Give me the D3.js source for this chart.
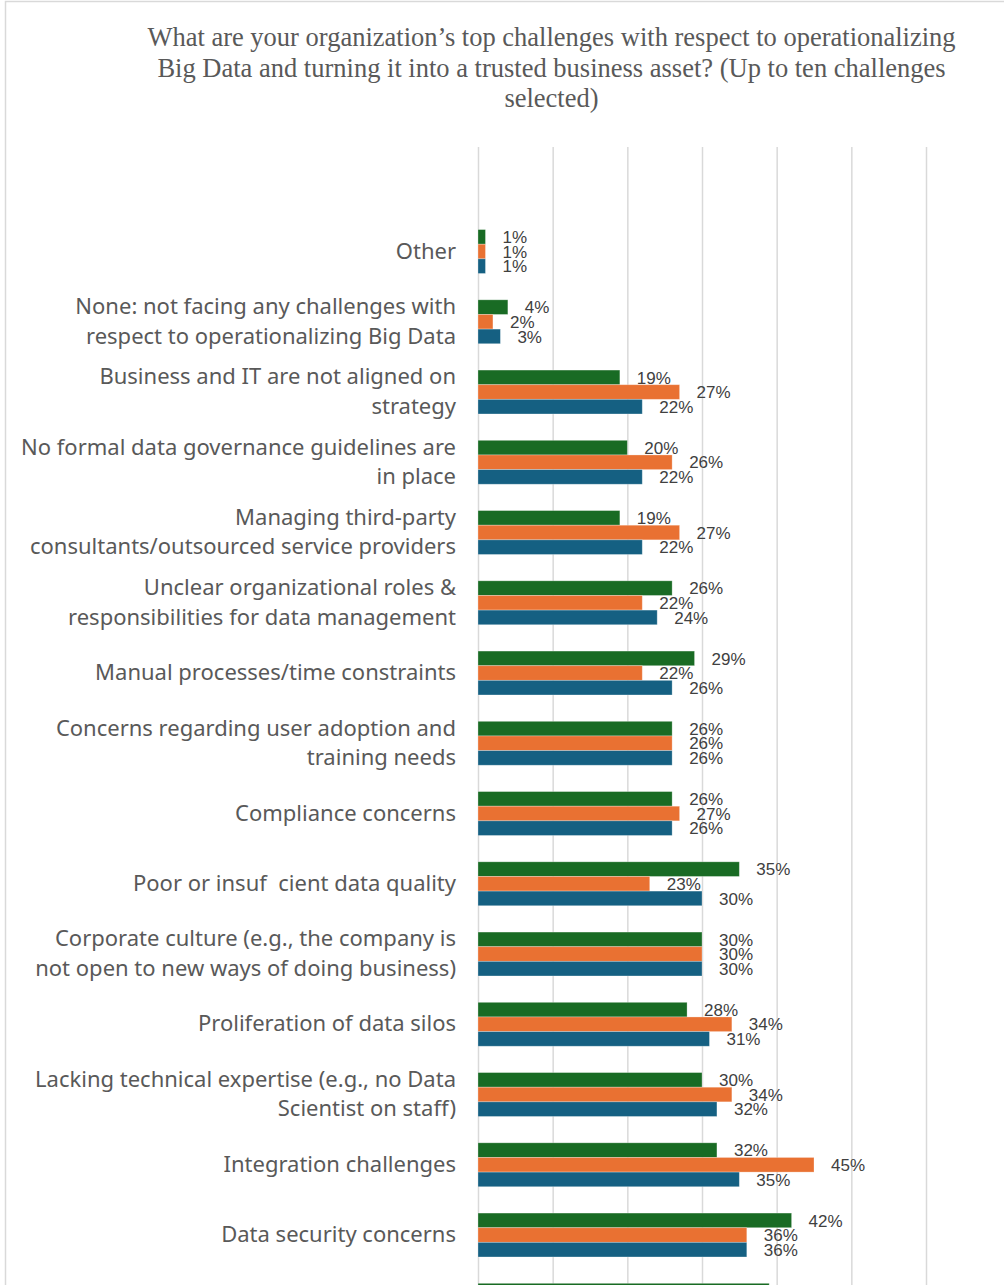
<!DOCTYPE html>
<html>
<head>
<meta charset="utf-8">
<script src="https://cdn.jsdelivr.net/npm/d3@7"></script>
<style>
  html, body { margin: 0; padding: 0; background: #fff; overflow: hidden; }
  svg { display: block; }
</style>
</head>
<body>
<svg id="chart" width="1004" height="1285"></svg>
<script>
// ---- data (top to bottom) ----
const titleLines = [
  "What are your organization\u2019s top challenges with respect to operationalizing",
  "Big Data and turning it into a trusted business asset? (Up to ten challenges",
  "selected)"
];
const categories = [
  ["Other"],
  ["None: not facing any challenges with", "respect to operationalizing Big Data"],
  ["Business and IT are not aligned on", "strategy"],
  ["No formal data governance guidelines are", "in place"],
  ["Managing third-party", "consultants/outsourced service providers"],
  ["Unclear organizational roles &", "responsibilities for data management"],
  ["Manual processes/time constraints"],
  ["Concerns regarding user adoption and", "training needs"],
  ["Compliance concerns"],
  ["Poor or insuf\u00a0\u00a0cient data quality"],
  ["Corporate culture (e.g., the company is", "not open to new ways of doing business)"],
  ["Proliferation of data silos"],
  ["Lacking technical expertise (e.g., no Data", "Scientist on staff)"],
  ["Integration challenges"],
  ["Data security concerns"],
  [""]  // next category, cut off at the bottom of the picture
];
const seriesNames = ["Series 1", "Series 2", "Series 3"];
const seriesColors = ["#196B24", "#E97132", "#156082"];
const green  = [1, 4, 19, 20, 19, 26, 29, 26, 26, 35, 30, 28, 30, 32, 42, 39];
const orange = [1, 2, 27, 26, 27, 22, 22, 26, 27, 23, 30, 34, 34, 45, 36, null];
const blue   = [1, 3, 22, 22, 22, 24, 26, 26, 26, 30, 30, 31, 32, 35, 36, null];
const xTicks = [0, 10, 20, 30, 40, 50, 60];

// ---- layout ----
const svg = d3.select("#chart");
const W = 1004, H = 1285;
const plotLeft = 478, plotRight = 926;
const gridTop = 147;
const step = 70.25;
const bandTop = 216.4;

const catKeys = categories.map((c, i) => "c" + i);
const values = [green, orange, blue];

const x = d3.scaleLinear().domain([0, 60]).range([plotLeft, plotRight]);
const y = d3.scaleBand().domain(catKeys)
  .range([bandTop, bandTop + step * catKeys.length])
  .paddingInner(0.375).paddingOuter(0.1875);
const ys = d3.scaleBand().domain(seriesNames).range([0, y.bandwidth()]);

// frame
svg.append("rect")
  .attr("x", 5.5).attr("y", 1.5)
  .attr("width", W + 20).attr("height", H + 20)
  .attr("fill", "#fff").attr("stroke", "#d9d9d9").attr("stroke-width", 1.5);

// title
svg.append("text")
  .attr("x", 551.5).attr("y", 46)
  .attr("text-anchor", "middle")
  .style("font-family", "'Liberation Serif', 'Times New Roman', serif")
  .style("font-size", "26.5px")
  .attr("fill", "#595959")
  .selectAll("tspan").data(titleLines).join("tspan")
  .attr("x", 551.5).attr("dy", (d, i) => i === 0 ? 0 : 30.5)
  .text(d => d);

// gridlines via axis
const gx = svg.append("g")
  .attr("transform", `translate(0,${gridTop})`)
  .call(d3.axisBottom(x).tickValues(xTicks).tickSize(H - gridTop + 20).tickFormat(""));
gx.select(".domain").remove();
gx.selectAll(".tick line").attr("stroke", "#d9d9d9").attr("stroke-width", 1.5);

// bars
const groups = svg.append("g").selectAll("g.cat")
  .data(catKeys).join("g")
  .attr("class", "cat")
  .attr("transform", d => `translate(0,${y(d)})`);

groups.each(function(key, ci) {
  const g = d3.select(this);
  const gy = y(key);
  const rows = seriesNames.map((s, si) => ({ s, si, v: values[si][ci] })).filter(r => r.v != null);
  g.selectAll("rect").data(rows).join("rect")
    .attr("x", x(0))
    .attr("y", r => ys(r.s))
    .attr("width", r => x(r.v) - x(0))
    .attr("height", ys.bandwidth())
    .attr("fill", r => seriesColors[r.si])
    .attr("stroke", "#ffffff").attr("stroke-opacity", 0.35).attr("stroke-width", 0.8);
  // labels only where they fall inside the picture
  g.selectAll("text.lbl").data(rows.filter(r => gy + ys(r.s) + ys.bandwidth() / 2 + 8 < H)).join("text")
    .attr("class", "lbl")
    .attr("x", r => x(r.v) + 17)
    .attr("y", r => ys(r.s) + ys.bandwidth() / 2)
    .attr("dy", "0.36em")
    .style("font-family", "'Liberation Sans', Arial, sans-serif")
    .style("font-size", "17px")
    .attr("fill", "#404040")
    .text(r => r.v + "%");
});

// category labels
const catLabels = svg.append("g").selectAll("text.cat")
  .data(categories).join("text")
  .attr("class", "cat")
  .attr("text-anchor", "end")
  .style("font-family", "'Noto Sans', 'Open Sans', sans-serif")
  .style("font-size", "22px")
  .attr("fill", "#595959")
  .attr("x", 456)
  .attr("y", (d, i) => y(catKeys[i]) + y.bandwidth() / 2 + 7 - (d.length - 1) * 14.75)
  .attr("dy", "0.35em");
catLabels.selectAll("tspan").data(d => d).join("tspan")
  .attr("x", 456)
  .attr("dy", (d, i) => i === 0 ? 0 : 29.5)
  .text(d => d);
</script>
</body>
</html>
